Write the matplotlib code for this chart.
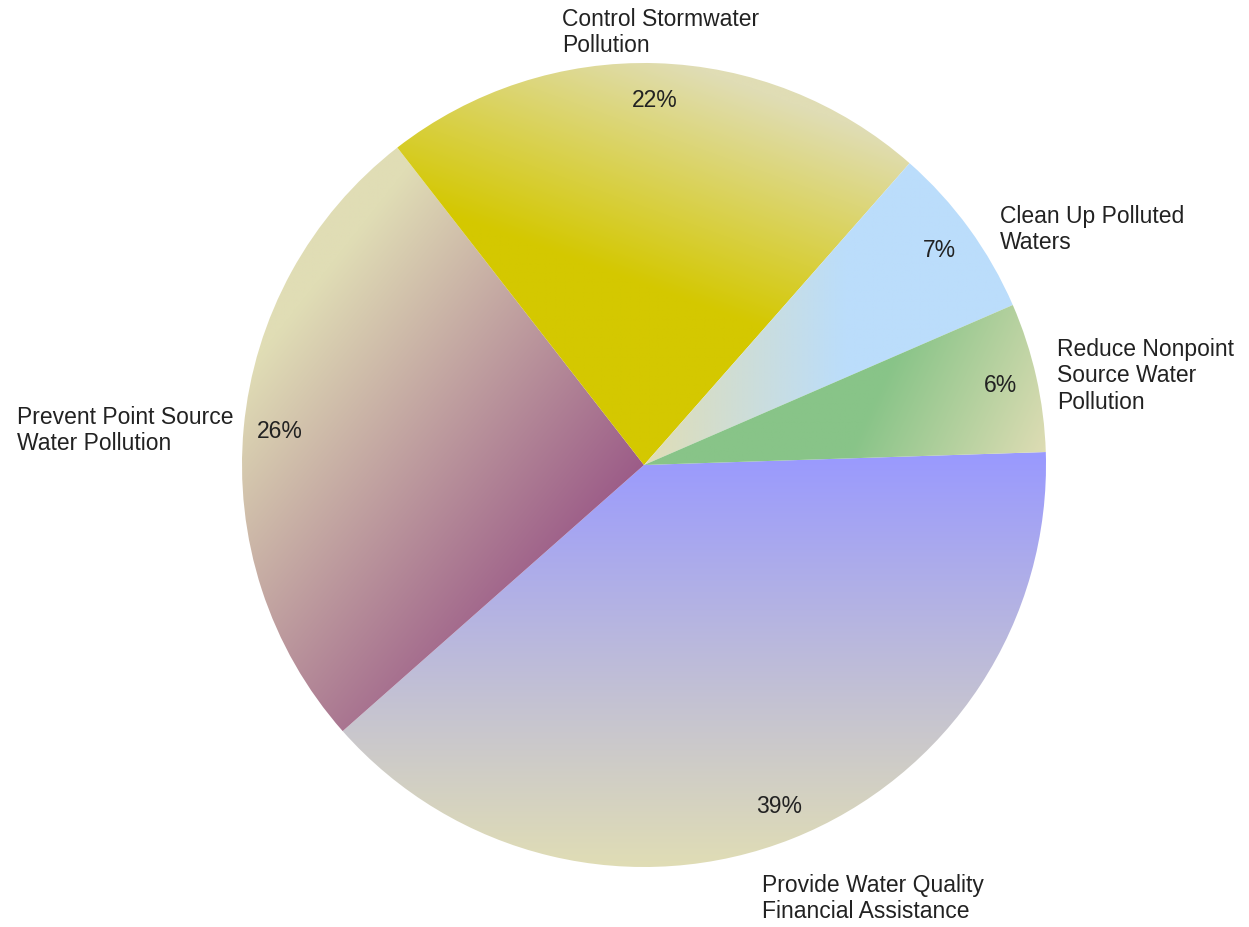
import numpy as np
import matplotlib.pyplot as plt
from matplotlib.colors import to_rgb

plt.rcParams['font.family'] = ['Liberation Sans', 'DejaVu Sans']

# data (clockwise from the right)
labels = ["Provide Water Quality\nFinancial Assistance",
          "Prevent Point Source\nWater Pollution",
          "Control Stormwater\nPollution",
          "Clean Up Polluted\nWaters",
          "Reduce Nonpoint\nSource Water\nPollution"]
shares = [39, 26, 22, 7, 6]

# style
colors = ["#9999ff", "#9c5c88", "#d4c800", "#bbddfb", "#88c488"]
beige = "#e0ddb5"
# gradient of each slice: direction, start, end (slice colour at start, beige at end)
grads = [((0.0, -1.0), -0.03, 1.0),
         ((-0.785, 0.620), 0.0, 0.92),
         ((0.342, 0.940), 0.42, 0.97),
         ((-1.0, 0.0), -0.5, 0.0),
         ((0.906, -0.423), 0.45, 0.9)]
# label placement, pixels from the rim at mid angle
offsets = [(-30, -59), (-10, -2), (-94, 32), (31, 0), (21, 2)]
aligns = ['left', 'right', 'left', 'left', 'left']

W, H = 1249, 928
R = 402.0
cx, cy = 644, 466

fig = plt.figure(figsize=(W / 100, H / 100), dpi=100)
ax = fig.add_axes([0, 0, 1, 1])

wedges, texts, pcts = ax.pie(shares, startangle=1.85, counterclock=False, radius=1,
                             autopct='%1.0f%%', pctdistance=0.91,
                             wedgeprops=dict(linewidth=0),
                             textprops=dict(fontsize=16.5, color='#222222'))

n = 900
xs = np.linspace(-1.01, 1.01, n)
X, Y = np.meshgrid(xs, xs)
c1 = np.array(to_rgb(beige))

for w, col, g in zip(wedges, colors, grads):
    (dx, dy), s0, s1 = g
    s = X * dx + Y * dy
    t = np.clip((s - s0) / (s1 - s0), 0, 1)[..., None]
    c0 = np.array(to_rgb(col))
    img = c0 * (1 - t) + c1 * t
    w.set_facecolor('none')
    im = ax.imshow(img, extent=(-1.01, 1.01, -1.01, 1.01), origin='lower',
                   aspect='auto', interpolation='bilinear', zorder=1)
    im.set_clip_path(w)

for w, lab, off, ha in zip(wedges, labels, offsets, aligns):
    mid = np.deg2rad((w.theta1 + w.theta2) / 2)
    ax.annotate(lab, xy=(np.cos(mid), np.sin(mid)), xytext=off,
                textcoords='offset pixels', ha=ha, va='center',
                multialignment='left', fontsize=16.5, color='#222222',
                linespacing=1.17)

ax.set_xlim(-cx / R, (W - cx) / R)
ax.set_ylim(-(H - cy) / R, cy / R)
ax.axis('off')

fig.savefig('out.png', dpi=100)
